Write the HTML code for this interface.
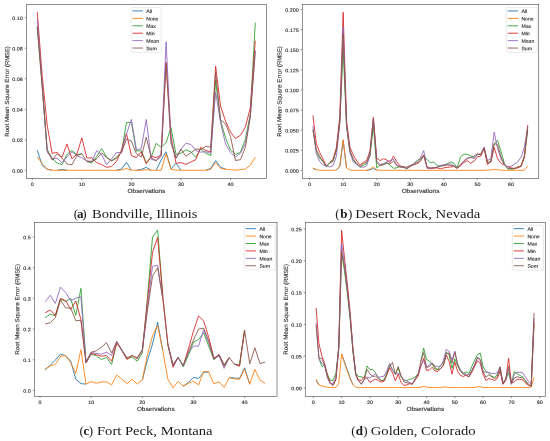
<!DOCTYPE html>
<html><head><meta charset="utf-8"><title>RMSE</title>
<style>
html,body{margin:0;padding:0;background:#fff;}
body{width:550px;height:441px;overflow:hidden;}
svg{display:block;}
text{font-family:"Liberation Sans",sans-serif;fill:#2a2a2a;stroke:#2a2a2a;stroke-width:0.12px;filter:grayscale(1);}
.cap{font-family:"Liberation Serif",serif;fill:#1a1a1a;stroke:none;}
.ln{fill:none;stroke-linejoin:round;stroke-linecap:butt;}
</style></head><body>
<svg width="550" height="441" viewBox="0 0 550 441">
<rect x="0" y="0" width="550" height="441" fill="#ffffff"/>

<g id="panel-a">
<clipPath id="clip-a"><rect x="26.5" y="4.6" width="239.9" height="173.9"/></clipPath>
<g clip-path="url(#clip-a)">
<polyline class="ln" stroke="#1f77b4" stroke-width="0.88" points="37.25,150.24 42.21,165.21 47.16,169.33 52.12,170.25"/>
<polyline class="ln" stroke="#1f77b4" stroke-width="0.88" points="57.07,170.25 62.03,169.48 66.98,170.25"/>
<polyline class="ln" stroke="#1f77b4" stroke-width="0.88" points="116.53,170.25 121.49,169.03 126.44,162.31 131.4,170.25"/>
<polyline class="ln" stroke="#1f77b4" stroke-width="0.88" points="136.36,170.25 141.31,169.48 146.26,167.35 151.22,170.25"/>
<polyline class="ln" stroke="#1f77b4" stroke-width="0.88" points="156.18,170.25 161.13,160.09 166.08,151.77 171.04,169.03 176,163.22 180.95,170.25"/>
<polyline class="ln" stroke="#1f77b4" stroke-width="0.88" points="205.73,170.25 210.68,168.41 215.63,160.47 220.59,167.35 225.55,169.03"/>
<polyline class="ln" stroke="#ff7f0e" stroke-width="0.88" points="37.25,156.66 42.21,163.83 47.16,169.03 52.12,170.25 57.07,170.25 62.03,170.25 66.98,170.25 71.94,170.25 76.89,170.25 81.85,170.25 86.81,170.25 91.76,170.25 96.72,170.25 101.67,170.25 106.62,170.25 111.58,170.25 116.53,170.25 121.49,169.94 126.44,168.41 131.4,170.25 136.36,170.25 141.31,170.25 146.26,169.64 151.22,170.25 156.18,170.25 161.13,170.25 166.08,153.76 171.04,169.33 176,170.09 180.95,170.25 185.9,170.25 190.86,170.25 195.81,170.25 200.77,170.25 205.73,170.25 210.68,169.33 215.63,162.61 220.59,168.41 225.55,169.18 230.5,169.64 235.45,170.25 240.41,169.64 245.37,169.03 250.32,165.21 255.27,157.12"/>
<polyline class="ln" stroke="#2ca02c" stroke-width="0.88" points="37.25,26.86 42.21,85.65 47.16,149.94 52.12,158.18 57.07,163.07 62.03,164.6 66.98,154.37 71.94,150.55 76.89,154.67 81.85,153.76"/>
<polyline class="ln" stroke="#2ca02c" stroke-width="0.88" points="86.81,161.39 91.76,163.07 96.72,156.28 101.67,148.64 106.62,156.96 111.58,160.78 116.53,156.96 121.49,152.46 126.44,122.6 131.4,122.3 136.36,151.16 141.31,150.55 146.26,162.61 151.22,156.96 156.18,143.3 161.13,147.34 166.08,142.61 171.04,127.64 176,154.37 180.95,153.3 185.9,149.94 190.86,151.77 195.81,157.27 200.77,148.64 205.73,153.3 210.68,155.59 215.63,80.46 220.59,120.62 225.55,137.87 230.5,149.94 235.45,154.37 240.41,152.46 245.37,139.1 250.32,113.9 255.27,22.59"/>
<polyline class="ln" stroke="#d62728" stroke-width="0.88" points="37.25,12.05 42.21,75.73 47.16,125.05 52.12,153.3 57.07,152.46 62.03,157.27 66.98,143.98 71.94,158.79 76.89,154.06 81.85,137.87 86.81,157.88 91.76,157.88 96.72,162.61 101.67,164.6 106.62,167.35 111.58,166.43 116.53,161.39 121.49,149.94 126.44,133.37 131.4,155.59 136.36,157.57 141.31,151.77 146.26,163.91 151.22,156.28 156.18,157.57 161.13,154.98 166.08,62.14 171.04,136.81 176,163.22 180.95,162.61 185.9,164.29 190.86,162 195.81,159.71 200.77,147.34 205.73,150.55 210.68,151.77 215.63,66.11 220.59,106.27 225.55,121.23 230.5,132.07 235.45,138.49 240.41,135.28 245.37,127.03 250.32,107.79 255.27,40.76"/>
<polyline class="ln" stroke="#9467bd" stroke-width="0.88" points="37.25,19.23 42.21,84.89 47.16,152.08 52.12,158.49 57.07,158.18 62.03,162.77 66.98,156.96 71.94,151.77 76.89,155.59 81.85,157.88 86.81,160.93 91.76,161.39 96.72,150.55 101.67,154.67 106.62,164.6 111.58,158.79 116.53,152.46 121.49,152.84 126.44,134.06 131.4,119.4 136.36,149.94 141.31,148.64 146.26,119.4 151.22,159.41 156.18,160.47 161.13,154.37 166.08,41.83 171.04,139.86 176,158.49 180.95,149.33 185.9,143.22 190.86,144.44 195.81,150.55 200.77,152.08 205.73,151.77 210.68,153.3 215.63,92.22 220.59,122.6 225.55,144.14 230.5,152.46 235.45,156.96 240.41,153.3 245.37,143.52 250.32,115.43 255.27,50.53"/>
<polyline class="ln" stroke="#8c564b" stroke-width="0.88" points="37.25,26.86 42.21,87.18 47.16,149.48 52.12,160.09 57.07,153.76 62.03,158.18 66.98,163.91 71.94,164.75 76.89,155.59 81.85,153.76 86.81,161.39 91.76,161.7 96.72,158.79 101.67,152.84 106.62,157.57 111.58,160.93 116.53,158.18 121.49,152.46 126.44,139.1 131.4,141.01 136.36,153.76 141.31,156.96 146.26,137.19 151.22,157.57 156.18,160.78 161.13,156.28 166.08,63.51 171.04,143.52 176,157.88 180.95,149.02 185.9,156.28 190.86,152.84 195.81,149.02 200.77,149.48 205.73,146.43 210.68,147.04 215.63,72.67 220.59,120.01 225.55,123.83 230.5,136.5 235.45,160.47 240.41,159.71 245.37,147.34 250.32,116.95 255.27,51.29"/>
</g>
<rect x="26.5" y="4.6" width="239.9" height="173.9" fill="none" stroke="#555555" stroke-width="0.65"/>
<line x1="32.3" y1="178.5" x2="32.3" y2="180.2" stroke="#555555" stroke-width="0.6"/>
<text x="32.3" y="186.05" transform="rotate(0.06 32.3 186.05)" font-size="4.9" text-anchor="middle" textLength="3" lengthAdjust="spacingAndGlyphs">0</text>
<line x1="81.85" y1="178.5" x2="81.85" y2="180.2" stroke="#555555" stroke-width="0.6"/>
<text x="81.85" y="186.05" transform="rotate(0.06 81.85 186.05)" font-size="4.9" text-anchor="middle" textLength="6.01" lengthAdjust="spacingAndGlyphs">10</text>
<line x1="131.4" y1="178.5" x2="131.4" y2="180.2" stroke="#555555" stroke-width="0.6"/>
<text x="131.4" y="186.05" transform="rotate(0.06 131.4 186.05)" font-size="4.9" text-anchor="middle" textLength="6.01" lengthAdjust="spacingAndGlyphs">20</text>
<line x1="180.95" y1="178.5" x2="180.95" y2="180.2" stroke="#555555" stroke-width="0.6"/>
<text x="180.95" y="186.05" transform="rotate(0.06 180.95 186.05)" font-size="4.9" text-anchor="middle" textLength="6.01" lengthAdjust="spacingAndGlyphs">30</text>
<line x1="230.5" y1="178.5" x2="230.5" y2="180.2" stroke="#555555" stroke-width="0.6"/>
<text x="230.5" y="186.05" transform="rotate(0.06 230.5 186.05)" font-size="4.9" text-anchor="middle" textLength="6.01" lengthAdjust="spacingAndGlyphs">40</text>
<line x1="24.8" y1="170.4" x2="26.5" y2="170.4" stroke="#555555" stroke-width="0.6"/>
<text x="22.9" y="172.65" transform="rotate(0.06 22.9 172.65)" font-size="4.9" text-anchor="end" textLength="10.51" lengthAdjust="spacingAndGlyphs">0.00</text>
<line x1="24.8" y1="139.86" x2="26.5" y2="139.86" stroke="#555555" stroke-width="0.6"/>
<text x="22.9" y="142.11" transform="rotate(0.06 22.9 142.11)" font-size="4.9" text-anchor="end" textLength="10.51" lengthAdjust="spacingAndGlyphs">0.02</text>
<line x1="24.8" y1="109.32" x2="26.5" y2="109.32" stroke="#555555" stroke-width="0.6"/>
<text x="22.9" y="111.57" transform="rotate(0.06 22.9 111.57)" font-size="4.9" text-anchor="end" textLength="10.51" lengthAdjust="spacingAndGlyphs">0.04</text>
<line x1="24.8" y1="78.78" x2="26.5" y2="78.78" stroke="#555555" stroke-width="0.6"/>
<text x="22.9" y="81.03" transform="rotate(0.06 22.9 81.03)" font-size="4.9" text-anchor="end" textLength="10.51" lengthAdjust="spacingAndGlyphs">0.06</text>
<line x1="24.8" y1="48.24" x2="26.5" y2="48.24" stroke="#555555" stroke-width="0.6"/>
<text x="22.9" y="50.49" transform="rotate(0.06 22.9 50.49)" font-size="4.9" text-anchor="end" textLength="10.51" lengthAdjust="spacingAndGlyphs">0.08</text>
<line x1="24.8" y1="17.7" x2="26.5" y2="17.7" stroke="#555555" stroke-width="0.6"/>
<text x="22.9" y="19.95" transform="rotate(0.06 22.9 19.95)" font-size="4.9" text-anchor="end" textLength="10.51" lengthAdjust="spacingAndGlyphs">0.10</text>
<text x="146.45" y="193.1" transform="rotate(0.06 146.45 193.1)" font-size="6.0" text-anchor="middle" textLength="37.7" lengthAdjust="spacingAndGlyphs">Observations</text>
<g transform="translate(9.1 91.55) rotate(-89.94)">
<text x="-45.26" y="0" font-size="6.0" textLength="12.96" lengthAdjust="spacingAndGlyphs">Root</text>
<text x="-30.48" y="0" font-size="6.0" textLength="15.58" lengthAdjust="spacingAndGlyphs">Mean</text>
<text x="-13.08" y="0" font-size="6.0" textLength="20.14" lengthAdjust="spacingAndGlyphs">Square</text>
<text x="8.88" y="0" font-size="6.0" textLength="13.94" lengthAdjust="spacingAndGlyphs">Error</text>
<text x="24.64" y="0" font-size="6.0" textLength="20.62" lengthAdjust="spacingAndGlyphs">(RMSE)</text>
</g>
<rect x="131.2" y="7.5" width="30" height="44.9" rx="0.8" fill="#ffffff" fill-opacity="0.8" stroke="#cccccc" stroke-opacity="0.8" stroke-width="0.5"/>
<line x1="132.5" y1="10.95" x2="142.8" y2="10.95" stroke="#1f77b4" stroke-width="0.88"/>
<text x="146.2" y="13.05" transform="rotate(0.06 146.2 13.05)" font-size="4.9" textLength="5.85" lengthAdjust="spacingAndGlyphs">All</text>
<line x1="132.5" y1="18.37" x2="142.8" y2="18.37" stroke="#ff7f0e" stroke-width="0.88"/>
<text x="146.2" y="20.47" transform="rotate(0.06 146.2 20.47)" font-size="4.9" textLength="12.31" lengthAdjust="spacingAndGlyphs">None</text>
<line x1="132.5" y1="25.79" x2="142.8" y2="25.79" stroke="#2ca02c" stroke-width="0.88"/>
<text x="146.2" y="27.89" transform="rotate(0.06 146.2 27.89)" font-size="4.9" textLength="9.76" lengthAdjust="spacingAndGlyphs">Max</text>
<line x1="132.5" y1="33.21" x2="142.8" y2="33.21" stroke="#d62728" stroke-width="0.88"/>
<text x="146.2" y="35.31" transform="rotate(0.06 146.2 35.31)" font-size="4.9" textLength="8.38" lengthAdjust="spacingAndGlyphs">Min</text>
<line x1="132.5" y1="40.63" x2="142.8" y2="40.63" stroke="#9467bd" stroke-width="0.88"/>
<text x="146.2" y="42.73" transform="rotate(0.06 146.2 42.73)" font-size="4.9" textLength="12.86" lengthAdjust="spacingAndGlyphs">Mean</text>
<line x1="132.5" y1="48.05" x2="142.8" y2="48.05" stroke="#8c564b" stroke-width="0.88"/>
<text x="146.2" y="50.15" transform="rotate(0.06 146.2 50.15)" font-size="4.9" textLength="10.59" lengthAdjust="spacingAndGlyphs">Sum</text>
<text class="cap" x="73.8" y="217.8" font-size="13">(</text>
<text class="cap" x="80.15" y="217.8" font-size="13" font-weight="bold" text-anchor="middle">a</text>
<text class="cap" x="86.5" y="217.8" font-size="13" text-anchor="end">)</text>
<text class="cap" x="92" y="217.8" font-size="13" textLength="105.3" lengthAdjust="spacingAndGlyphs">Bondville, Illinois</text>
</g>
<g id="panel-b">
<clipPath id="clip-b"><rect x="302.3" y="4.6" width="236.4" height="173.9"/></clipPath>
<g clip-path="url(#clip-b)">
<polyline class="ln" stroke="#1f77b4" stroke-width="0.88" points="312.96,168.49 316.31,169.76"/>
<polyline class="ln" stroke="#1f77b4" stroke-width="0.88" points="336.45,169.92 339.8,166.74 343.16,140.55 346.52,168.01"/>
<polyline class="ln" stroke="#1f77b4" stroke-width="0.88" points="366.65,170.32 370.01,169.76 373.36,168.57 376.72,170.16"/>
<polyline class="ln" stroke="#ff7f0e" stroke-width="0.88" points="312.96,168.01 316.31,169.76 319.67,170.16 323.02,170.32 326.38,170.32 329.74,170.32 333.09,170.32 336.45,169.92 339.8,166.02 343.16,139.67 346.52,168.01 349.87,169.92 353.23,170.32 356.58,170.32 359.94,170.32 363.3,170.32 366.65,170.32 370.01,169.13 373.36,166.98 376.72,169.92 380.08,170.32 383.43,170.32 386.79,170.32 390.14,170.32 393.5,170.32 396.86,170.32 400.21,170.32 403.57,170.32 406.92,170.32 410.28,170.32 413.64,170.32 416.99,170.32 420.35,170.32 423.7,170.32 427.06,170.32 430.42,170.32 433.77,170.32 437.13,170.32 440.48,170.32 443.84,170.32 447.2,170.32 450.55,170.32 453.91,170.32 457.26,170.32 460.62,170.32 463.98,170.32 467.33,170.32 470.69,170.32 474.04,170.32 477.4,170.32 480.76,170.32 484.11,170.32 487.47,170.08 490.82,169.92 494.18,169.29 497.54,169.76 500.89,170.08 504.25,170.32 507.6,170.32 510.96,170.32 514.32,170.32 517.67,170.32 521.03,170.32 524.38,170.16 527.74,166.02"/>
<polyline class="ln" stroke="#2ca02c" stroke-width="0.88" points="312.96,129.01 316.31,151.69 319.67,158.06 323.02,161.88 326.38,166.98 329.74,163.24 333.09,161.25 336.45,149.78 339.8,122.64 343.16,49.41 346.52,125.82 349.87,151.69 353.23,160.05 356.58,163.79 359.94,167.38 363.3,165.39 366.65,163.63 370.01,156.15 373.36,125.82 376.72,167.85 380.08,165.07 383.43,164.43 386.79,162.52 390.14,165.39 393.5,168.25 396.86,167.85 400.21,166.42 403.57,167.38 406.92,168.89 410.28,166.42 413.64,163.79 416.99,161.25 420.35,158.7 423.7,156.15 427.06,159.34 430.42,162.84 433.77,161.88 437.13,165.7 440.48,166.1 443.84,165.39 447.2,163.79 450.55,161.88 453.91,163.24 457.26,167.61 460.62,156.79 463.98,154.24 467.33,154.24 470.69,155.91 474.04,157.43 477.4,154.24 480.76,154.88 484.11,147.87 487.47,163.24 490.82,161.25 494.18,144.13 497.54,140.31 500.89,151.06 504.25,163.24 507.6,168.89 510.96,169.13 514.32,168.89 517.67,166.98 521.03,166.42 524.38,156.15 527.74,130.6"/>
<polyline class="ln" stroke="#d62728" stroke-width="0.88" points="312.96,115.48 316.31,143.5 319.67,152.33 323.02,159.02 326.38,166.1"/>
<polyline class="ln" stroke="#d62728" stroke-width="0.88" points="329.74,162.52 333.09,159.34 336.45,147.32 339.8,116.27 343.16,12.31 346.52,120.57 349.87,147 353.23,154.88 356.58,160.61 359.94,164.83 363.3,162.52 366.65,160.45 370.01,151.06 373.36,117.39 376.72,158.06 380.08,160.61 383.43,158.7 386.79,159.97 390.14,162.52 393.5,156.15 396.86,161.88 400.21,166.1 403.57,166.66 406.92,168.25 410.28,166.42 413.64,164.43 416.99,163.63 420.35,161.25 423.7,155.51 427.06,167.85 430.42,168.65 433.77,168.25 437.13,167.85 440.48,168.89 443.84,167.85 447.2,167.38 450.55,166.98 453.91,166.42 457.26,168.25 460.62,165.7 463.98,162.52 467.33,160.61 470.69,163.24 474.04,161.25 477.4,156.79 480.76,156.15 484.11,148.51 487.47,164.43 490.82,161.88 494.18,147.32 497.54,158.7 500.89,163.24 504.25,165.07"/>
<polyline class="ln" stroke="#d62728" stroke-width="0.88" points="507.6,166.66 510.96,167.85 514.32,168.65 517.67,167.85 521.03,166.42 524.38,157.43 527.74,125.03"/>
<polyline class="ln" stroke="#9467bd" stroke-width="0.88" points="312.96,125.66 316.31,153.68 319.67,161.25 323.02,165.07 326.38,165.7 329.74,166.98 333.09,165.39 336.45,156.15 339.8,122.64 343.16,27.12 346.52,124.23 349.87,152.33 353.23,161.88 356.58,164.43 359.94,166.42 363.3,167.38 366.65,165.86 370.01,154.88 373.36,119.3 376.72,161.25 380.08,164.43 383.43,163.55 386.79,161.88 390.14,160.61 393.5,159.34 396.86,165.07 400.21,166.98 403.57,166.42 406.92,168.65 410.28,165.7 413.64,163.79 416.99,160.61 420.35,158.06 423.7,150.5 427.06,168.25 430.42,168.25 433.77,167.85 437.13,166.98 440.48,165.39 443.84,164.83 447.2,164.43 450.55,163.79 453.91,165.7 457.26,167.85 460.62,165.07 463.98,161.25 467.33,158.7 470.69,157.43 474.04,158.7 477.4,154.88 480.76,154.24 484.11,147 487.47,160.61 490.82,158.7 494.18,132.27 497.54,148.51 500.89,158.7 504.25,164.83 507.6,166.42 510.96,166.42 514.32,164.43 517.67,161.88 521.03,157.43 524.38,147.32 527.74,126.94"/>
<polyline class="ln" stroke="#8c564b" stroke-width="0.88" points="312.96,130.6 316.31,149.78 319.67,156.15 323.02,161.25 326.38,166.1 329.74,162.52 333.09,160.61 336.45,149.78 339.8,121.05 343.16,33.73 346.52,124.23 349.87,150.5 353.23,158.7 356.58,163.24 359.94,166.42 363.3,163.79 366.65,162.2 370.01,152.97 373.36,118.66 376.72,162.52 380.08,165.7 383.43,164.83 386.79,163.24 390.14,163.79 393.5,161.25 396.86,165.7 400.21,166.98 403.57,167.61 406.92,166.98 410.28,165.39 413.64,165.07 416.99,162.84 420.35,160.61 423.7,154.88 427.06,166.98 430.42,167.85 433.77,167.61 437.13,167.38 440.48,166.42 443.84,165.39 447.2,165.07 450.55,165.39 453.91,166.1 457.26,168.25 460.62,164.43 463.98,160.61 467.33,158.06 470.69,157.43 474.04,156.15 477.4,153.68 480.76,154.24 484.11,147.87 487.47,162.52 490.82,161.88 494.18,143.5 497.54,144.77 500.89,156.15 504.25,164.43 507.6,168.25 510.96,168.65 514.32,168.25 517.67,166.98 521.03,165.7 524.38,156.15 527.74,127.42"/>
</g>
<rect x="302.3" y="4.6" width="236.4" height="173.9" fill="none" stroke="#555555" stroke-width="0.65"/>
<line x1="309.6" y1="178.5" x2="309.6" y2="180.2" stroke="#555555" stroke-width="0.6"/>
<text x="309.6" y="186.05" transform="rotate(0.06 309.6 186.05)" font-size="4.9" text-anchor="middle" textLength="3" lengthAdjust="spacingAndGlyphs">0</text>
<line x1="343.16" y1="178.5" x2="343.16" y2="180.2" stroke="#555555" stroke-width="0.6"/>
<text x="343.16" y="186.05" transform="rotate(0.06 343.16 186.05)" font-size="4.9" text-anchor="middle" textLength="6.01" lengthAdjust="spacingAndGlyphs">10</text>
<line x1="376.72" y1="178.5" x2="376.72" y2="180.2" stroke="#555555" stroke-width="0.6"/>
<text x="376.72" y="186.05" transform="rotate(0.06 376.72 186.05)" font-size="4.9" text-anchor="middle" textLength="6.01" lengthAdjust="spacingAndGlyphs">20</text>
<line x1="410.28" y1="178.5" x2="410.28" y2="180.2" stroke="#555555" stroke-width="0.6"/>
<text x="410.28" y="186.05" transform="rotate(0.06 410.28 186.05)" font-size="4.9" text-anchor="middle" textLength="6.01" lengthAdjust="spacingAndGlyphs">30</text>
<line x1="443.84" y1="178.5" x2="443.84" y2="180.2" stroke="#555555" stroke-width="0.6"/>
<text x="443.84" y="186.05" transform="rotate(0.06 443.84 186.05)" font-size="4.9" text-anchor="middle" textLength="6.01" lengthAdjust="spacingAndGlyphs">40</text>
<line x1="477.4" y1="178.5" x2="477.4" y2="180.2" stroke="#555555" stroke-width="0.6"/>
<text x="477.4" y="186.05" transform="rotate(0.06 477.4 186.05)" font-size="4.9" text-anchor="middle" textLength="6.01" lengthAdjust="spacingAndGlyphs">50</text>
<line x1="510.96" y1="178.5" x2="510.96" y2="180.2" stroke="#555555" stroke-width="0.6"/>
<text x="510.96" y="186.05" transform="rotate(0.06 510.96 186.05)" font-size="4.9" text-anchor="middle" textLength="6.01" lengthAdjust="spacingAndGlyphs">60</text>
<line x1="300.6" y1="170.4" x2="302.3" y2="170.4" stroke="#555555" stroke-width="0.6"/>
<text x="298.7" y="172.65" transform="rotate(0.06 298.7 172.65)" font-size="4.9" text-anchor="end" textLength="13.51" lengthAdjust="spacingAndGlyphs">0.000</text>
<line x1="300.6" y1="150.3" x2="302.3" y2="150.3" stroke="#555555" stroke-width="0.6"/>
<text x="298.7" y="152.55" transform="rotate(0.06 298.7 152.55)" font-size="4.9" text-anchor="end" textLength="13.51" lengthAdjust="spacingAndGlyphs">0.025</text>
<line x1="300.6" y1="130.2" x2="302.3" y2="130.2" stroke="#555555" stroke-width="0.6"/>
<text x="298.7" y="132.45" transform="rotate(0.06 298.7 132.45)" font-size="4.9" text-anchor="end" textLength="13.51" lengthAdjust="spacingAndGlyphs">0.050</text>
<line x1="300.6" y1="110.1" x2="302.3" y2="110.1" stroke="#555555" stroke-width="0.6"/>
<text x="298.7" y="112.35" transform="rotate(0.06 298.7 112.35)" font-size="4.9" text-anchor="end" textLength="13.51" lengthAdjust="spacingAndGlyphs">0.075</text>
<line x1="300.6" y1="90" x2="302.3" y2="90" stroke="#555555" stroke-width="0.6"/>
<text x="298.7" y="92.25" transform="rotate(0.06 298.7 92.25)" font-size="4.9" text-anchor="end" textLength="13.51" lengthAdjust="spacingAndGlyphs">0.100</text>
<line x1="300.6" y1="69.9" x2="302.3" y2="69.9" stroke="#555555" stroke-width="0.6"/>
<text x="298.7" y="72.15" transform="rotate(0.06 298.7 72.15)" font-size="4.9" text-anchor="end" textLength="13.51" lengthAdjust="spacingAndGlyphs">0.125</text>
<line x1="300.6" y1="49.8" x2="302.3" y2="49.8" stroke="#555555" stroke-width="0.6"/>
<text x="298.7" y="52.05" transform="rotate(0.06 298.7 52.05)" font-size="4.9" text-anchor="end" textLength="13.51" lengthAdjust="spacingAndGlyphs">0.150</text>
<line x1="300.6" y1="29.7" x2="302.3" y2="29.7" stroke="#555555" stroke-width="0.6"/>
<text x="298.7" y="31.95" transform="rotate(0.06 298.7 31.95)" font-size="4.9" text-anchor="end" textLength="13.51" lengthAdjust="spacingAndGlyphs">0.175</text>
<line x1="300.6" y1="9.6" x2="302.3" y2="9.6" stroke="#555555" stroke-width="0.6"/>
<text x="298.7" y="11.85" transform="rotate(0.06 298.7 11.85)" font-size="4.9" text-anchor="end" textLength="13.51" lengthAdjust="spacingAndGlyphs">0.200</text>
<text x="420.5" y="193.1" transform="rotate(0.06 420.5 193.1)" font-size="6.0" text-anchor="middle" textLength="37.7" lengthAdjust="spacingAndGlyphs">Observations</text>
<g transform="translate(281.4 91.55) rotate(-89.94)">
<text x="-45.26" y="0" font-size="6.0" textLength="12.96" lengthAdjust="spacingAndGlyphs">Root</text>
<text x="-30.48" y="0" font-size="6.0" textLength="15.58" lengthAdjust="spacingAndGlyphs">Mean</text>
<text x="-13.08" y="0" font-size="6.0" textLength="20.14" lengthAdjust="spacingAndGlyphs">Square</text>
<text x="8.88" y="0" font-size="6.0" textLength="13.94" lengthAdjust="spacingAndGlyphs">Error</text>
<text x="24.64" y="0" font-size="6.0" textLength="20.62" lengthAdjust="spacingAndGlyphs">(RMSE)</text>
</g>
<rect x="506.4" y="7.5" width="30.7" height="44.9" rx="0.8" fill="#ffffff" fill-opacity="0.8" stroke="#cccccc" stroke-opacity="0.8" stroke-width="0.5"/>
<line x1="507.7" y1="10.95" x2="518" y2="10.95" stroke="#1f77b4" stroke-width="0.88"/>
<text x="521.4" y="13.05" transform="rotate(0.06 521.4 13.05)" font-size="4.9" textLength="5.85" lengthAdjust="spacingAndGlyphs">All</text>
<line x1="507.7" y1="18.37" x2="518" y2="18.37" stroke="#ff7f0e" stroke-width="0.88"/>
<text x="521.4" y="20.47" transform="rotate(0.06 521.4 20.47)" font-size="4.9" textLength="12.31" lengthAdjust="spacingAndGlyphs">None</text>
<line x1="507.7" y1="25.79" x2="518" y2="25.79" stroke="#2ca02c" stroke-width="0.88"/>
<text x="521.4" y="27.89" transform="rotate(0.06 521.4 27.89)" font-size="4.9" textLength="9.76" lengthAdjust="spacingAndGlyphs">Max</text>
<line x1="507.7" y1="33.21" x2="518" y2="33.21" stroke="#d62728" stroke-width="0.88"/>
<text x="521.4" y="35.31" transform="rotate(0.06 521.4 35.31)" font-size="4.9" textLength="8.38" lengthAdjust="spacingAndGlyphs">Min</text>
<line x1="507.7" y1="40.63" x2="518" y2="40.63" stroke="#9467bd" stroke-width="0.88"/>
<text x="521.4" y="42.73" transform="rotate(0.06 521.4 42.73)" font-size="4.9" textLength="12.86" lengthAdjust="spacingAndGlyphs">Mean</text>
<line x1="507.7" y1="48.05" x2="518" y2="48.05" stroke="#8c564b" stroke-width="0.88"/>
<text x="521.4" y="50.15" transform="rotate(0.06 521.4 50.15)" font-size="4.9" textLength="10.59" lengthAdjust="spacingAndGlyphs">Sum</text>
<text class="cap" x="335.3" y="217.8" font-size="13">(</text>
<text class="cap" x="343.8" y="217.8" font-size="13" font-weight="bold" text-anchor="middle">b</text>
<text class="cap" x="352.3" y="217.8" font-size="13" text-anchor="end">)</text>
<text class="cap" x="355.2" y="217.8" font-size="13" textLength="125.2" lengthAdjust="spacingAndGlyphs">Desert Rock, Nevada</text>
</g>
<g id="panel-c">
<clipPath id="clip-c"><rect x="34.5" y="222.4" width="242.5" height="174"/></clipPath>
<g clip-path="url(#clip-c)">
<polyline class="ln" stroke="#1f77b4" stroke-width="0.88" points="45.12,369.86 50.23,365.26 55.34,360.05 60.46,354.12 65.58,355.78 70.69,361.18 75.81,379.19 80.92,383.61 86.03,384.1"/>
<polyline class="ln" stroke="#1f77b4" stroke-width="0.88" points="142.3,379.99 147.42,360.35 152.53,344 157.65,322.22 162.76,350.54"/>
<polyline class="ln" stroke="#1f77b4" stroke-width="0.88" points="183.22,386.22 188.34,382.44 193.45,377.32 198.56,378.45 203.68,372.41 208.8,371.92"/>
<polyline class="ln" stroke="#1f77b4" stroke-width="0.88" points="229.25,377.63 234.37,377.96 239.49,378.45 244.6,367.81 249.72,384.19"/>
<polyline class="ln" stroke="#ff7f0e" stroke-width="0.88" points="45.12,368.88 50.23,366.09 55.34,364.46 60.46,356.27 65.58,355.44 70.69,362.81 75.81,373.45 80.92,349.74 86.03,384.1 91.15,381.64 96.27,383.27 101.38,381.95 106.5,381.95 111.61,384.9 116.73,375.08 121.84,379.19 126.95,383.61 132.07,379.19 137.19,384.1 142.3,379.99 147.42,354.65 152.53,335.81 157.65,325.5 162.76,350.54 167.88,379.19 172.99,387.84 178.11,381.31 183.22,386.22 188.34,383.27 193.45,381.25 198.56,384.99 203.68,371.43 208.8,371.92 213.91,383.85 219.03,381.74 224.14,387.44 229.25,377.63 234.37,378.94 239.49,379.28 244.6,369.13 249.72,384.19 254.83,369.46 259.95,380.08 265.06,383.36"/>
<polyline class="ln" stroke="#2ca02c" stroke-width="0.88" points="45.12,317.8 50.23,314.21 55.34,315.84 60.46,299.02 65.58,301.48 70.69,298.5 75.81,315.35 80.92,288.35 86.03,362.84 91.15,354.16 96.27,355.78 101.38,359.56 106.5,357.41 111.61,364.46 116.73,342.9"/>
<polyline class="ln" stroke="#2ca02c" stroke-width="0.88" points="121.84,350.54 126.95,358.7 132.07,357.07 137.19,361.18 142.3,352.99 147.42,298.41 152.53,237.05 157.65,230.18 162.76,295.34"/>
<polyline class="ln" stroke="#2ca02c" stroke-width="0.88" points="167.88,344.43 172.99,366.09 178.11,357.41 183.22,366.92 188.34,355.44 193.45,342.22 198.56,339.58 203.68,332.71 208.8,346.64 213.91,359.71 219.03,355.29 224.14,364.62 229.25,357.59"/>
<polyline class="ln" stroke="#2ca02c" stroke-width="0.88" points="234.37,364.13 239.49,365.45 244.6,330.26"/>
<polyline class="ln" stroke="#d62728" stroke-width="0.88" points="45.12,312.89 50.23,309.95 55.34,315.35 60.46,298.5 65.58,300.62 70.69,309.3 75.81,301.11 80.92,319.46 86.03,362.84 91.15,353.48 96.27,354.65 101.38,356.27 106.5,355.44 111.61,361.18 116.73,343.17 121.84,350.54 126.95,359.52 132.07,355.44 137.19,358.73 142.3,350.54 147.42,301.48 152.53,252.27 157.65,237.54 162.76,295.34 167.88,344.43 172.99,367.23 178.11,357.41"/>
<polyline class="ln" stroke="#d62728" stroke-width="0.88" points="183.22,366.09 188.34,349.03 193.45,331.08 198.56,316.02 203.68,320.93 208.8,337.62 213.91,358.08 219.03,354.8 224.14,365.45 229.25,357.59"/>
<polyline class="ln" stroke="#d62728" stroke-width="0.88" points="234.37,364.13 239.49,366.27 244.6,330.26"/>
<polyline class="ln" stroke="#9467bd" stroke-width="0.88" points="45.12,301.78 50.23,295.22 55.34,303.41 60.46,287.06 65.58,292.46 70.69,300.62 75.81,298.2 80.92,296.88 86.03,362.84 91.15,352.5 96.27,353.48 101.38,354.16 106.5,352.19 111.61,355.44 116.73,341.55 121.84,350.54 126.95,357.9"/>
<polyline class="ln" stroke="#9467bd" stroke-width="0.88" points="137.19,357.9 142.3,350.54 147.42,307.61 152.53,266.17 157.65,265.37 162.76,298.41"/>
<polyline class="ln" stroke="#9467bd" stroke-width="0.88" points="167.88,344.43 172.99,365.26 178.11,357.41 183.22,366.09 188.34,352.99 193.45,346.15 198.56,346.15 203.68,329.76 208.8,343.36 213.91,359.22 219.03,355.63 224.14,368.39 229.25,357.59"/>
<polyline class="ln" stroke="#8c564b" stroke-width="0.88" points="45.12,324.03 50.23,322.71 55.34,317.8 60.46,299.82 65.58,307.98 70.69,307.98 75.81,320.75 80.92,320.25 86.03,361.98 91.15,352.19 96.27,350.87 101.38,347.28 106.5,342.68 111.61,352.99 116.73,341.55 121.84,349.74 126.95,357.9 132.07,355.44 137.19,357.9 142.3,349.74 147.42,310.68 152.53,275.98 157.65,267.82 162.76,298.41 167.88,344.43 172.99,364.46 178.11,357.41 183.22,365.26 188.34,352.16 193.45,340.07 198.56,329.09 203.68,328.14 208.8,340.9 213.91,358.91 219.03,354.31 224.14,366.27 229.25,357.59 234.37,364.13 239.49,365.11 244.6,330.26 249.72,363.82 254.83,347.77 259.95,363.48 265.06,362.16"/>
</g>
<rect x="34.5" y="222.4" width="242.5" height="174" fill="none" stroke="#555555" stroke-width="0.65"/>
<line x1="40" y1="396.4" x2="40" y2="398.1" stroke="#555555" stroke-width="0.6"/>
<text x="40" y="403.95" transform="rotate(0.06 40 403.95)" font-size="4.9" text-anchor="middle" textLength="3" lengthAdjust="spacingAndGlyphs">0</text>
<line x1="91.15" y1="396.4" x2="91.15" y2="398.1" stroke="#555555" stroke-width="0.6"/>
<text x="91.15" y="403.95" transform="rotate(0.06 91.15 403.95)" font-size="4.9" text-anchor="middle" textLength="6.01" lengthAdjust="spacingAndGlyphs">10</text>
<line x1="142.3" y1="396.4" x2="142.3" y2="398.1" stroke="#555555" stroke-width="0.6"/>
<text x="142.3" y="403.95" transform="rotate(0.06 142.3 403.95)" font-size="4.9" text-anchor="middle" textLength="6.01" lengthAdjust="spacingAndGlyphs">20</text>
<line x1="193.45" y1="396.4" x2="193.45" y2="398.1" stroke="#555555" stroke-width="0.6"/>
<text x="193.45" y="403.95" transform="rotate(0.06 193.45 403.95)" font-size="4.9" text-anchor="middle" textLength="6.01" lengthAdjust="spacingAndGlyphs">30</text>
<line x1="244.6" y1="396.4" x2="244.6" y2="398.1" stroke="#555555" stroke-width="0.6"/>
<text x="244.6" y="403.95" transform="rotate(0.06 244.6 403.95)" font-size="4.9" text-anchor="middle" textLength="6.01" lengthAdjust="spacingAndGlyphs">40</text>
<line x1="32.8" y1="390.45" x2="34.5" y2="390.45" stroke="#555555" stroke-width="0.6"/>
<text x="30.9" y="392.7" transform="rotate(0.06 30.9 392.7)" font-size="4.9" text-anchor="end" textLength="7.51" lengthAdjust="spacingAndGlyphs">0.0</text>
<line x1="32.8" y1="359.77" x2="34.5" y2="359.77" stroke="#555555" stroke-width="0.6"/>
<text x="30.9" y="362.02" transform="rotate(0.06 30.9 362.02)" font-size="4.9" text-anchor="end" textLength="7.51" lengthAdjust="spacingAndGlyphs">0.1</text>
<line x1="32.8" y1="329.09" x2="34.5" y2="329.09" stroke="#555555" stroke-width="0.6"/>
<text x="30.9" y="331.34" transform="rotate(0.06 30.9 331.34)" font-size="4.9" text-anchor="end" textLength="7.51" lengthAdjust="spacingAndGlyphs">0.2</text>
<line x1="32.8" y1="298.41" x2="34.5" y2="298.41" stroke="#555555" stroke-width="0.6"/>
<text x="30.9" y="300.66" transform="rotate(0.06 30.9 300.66)" font-size="4.9" text-anchor="end" textLength="7.51" lengthAdjust="spacingAndGlyphs">0.3</text>
<line x1="32.8" y1="267.73" x2="34.5" y2="267.73" stroke="#555555" stroke-width="0.6"/>
<text x="30.9" y="269.98" transform="rotate(0.06 30.9 269.98)" font-size="4.9" text-anchor="end" textLength="7.51" lengthAdjust="spacingAndGlyphs">0.4</text>
<line x1="32.8" y1="237.05" x2="34.5" y2="237.05" stroke="#555555" stroke-width="0.6"/>
<text x="30.9" y="239.3" transform="rotate(0.06 30.9 239.3)" font-size="4.9" text-anchor="end" textLength="7.51" lengthAdjust="spacingAndGlyphs">0.5</text>
<text x="155.75" y="411" transform="rotate(0.06 155.75 411)" font-size="6.0" text-anchor="middle" textLength="37.7" lengthAdjust="spacingAndGlyphs">Observations</text>
<g transform="translate(19.35 309.4) rotate(-89.94)">
<text x="-45.26" y="0" font-size="6.0" textLength="12.96" lengthAdjust="spacingAndGlyphs">Root</text>
<text x="-30.48" y="0" font-size="6.0" textLength="15.58" lengthAdjust="spacingAndGlyphs">Mean</text>
<text x="-13.08" y="0" font-size="6.0" textLength="20.14" lengthAdjust="spacingAndGlyphs">Square</text>
<text x="8.88" y="0" font-size="6.0" textLength="13.94" lengthAdjust="spacingAndGlyphs">Error</text>
<text x="24.64" y="0" font-size="6.0" textLength="20.62" lengthAdjust="spacingAndGlyphs">(RMSE)</text>
</g>
<rect x="244.4" y="225.2" width="30.8" height="44.9" rx="0.8" fill="#ffffff" fill-opacity="0.8" stroke="#cccccc" stroke-opacity="0.8" stroke-width="0.5"/>
<line x1="245.7" y1="228.65" x2="256" y2="228.65" stroke="#1f77b4" stroke-width="0.88"/>
<text x="259.4" y="230.75" transform="rotate(0.06 259.4 230.75)" font-size="4.9" textLength="5.85" lengthAdjust="spacingAndGlyphs">All</text>
<line x1="245.7" y1="236.07" x2="256" y2="236.07" stroke="#ff7f0e" stroke-width="0.88"/>
<text x="259.4" y="238.17" transform="rotate(0.06 259.4 238.17)" font-size="4.9" textLength="12.31" lengthAdjust="spacingAndGlyphs">None</text>
<line x1="245.7" y1="243.49" x2="256" y2="243.49" stroke="#2ca02c" stroke-width="0.88"/>
<text x="259.4" y="245.59" transform="rotate(0.06 259.4 245.59)" font-size="4.9" textLength="9.76" lengthAdjust="spacingAndGlyphs">Max</text>
<line x1="245.7" y1="250.91" x2="256" y2="250.91" stroke="#d62728" stroke-width="0.88"/>
<text x="259.4" y="253.01" transform="rotate(0.06 259.4 253.01)" font-size="4.9" textLength="8.38" lengthAdjust="spacingAndGlyphs">Min</text>
<line x1="245.7" y1="258.33" x2="256" y2="258.33" stroke="#9467bd" stroke-width="0.88"/>
<text x="259.4" y="260.43" transform="rotate(0.06 259.4 260.43)" font-size="4.9" textLength="12.86" lengthAdjust="spacingAndGlyphs">Mean</text>
<line x1="245.7" y1="265.75" x2="256" y2="265.75" stroke="#8c564b" stroke-width="0.88"/>
<text x="259.4" y="267.85" transform="rotate(0.06 259.4 267.85)" font-size="4.9" textLength="10.59" lengthAdjust="spacingAndGlyphs">Sum</text>
<text class="cap" x="79.4" y="435.3" font-size="13">(</text>
<text class="cap" x="86.3" y="435.3" font-size="13" font-weight="bold" text-anchor="middle">c</text>
<text class="cap" x="93.2" y="435.3" font-size="13" text-anchor="end">)</text>
<text class="cap" x="97" y="435.3" font-size="13" textLength="115.5" lengthAdjust="spacingAndGlyphs">Fort Peck, Montana</text>
</g>
<g id="panel-d">
<clipPath id="clip-d"><rect x="305.3" y="222.4" width="240" height="174"/></clipPath>
<g clip-path="url(#clip-d)">
<polyline class="ln" stroke="#1f77b4" stroke-width="0.88" points="316.13,380.56 318.96,385.01"/>
<polyline class="ln" stroke="#1f77b4" stroke-width="0.88" points="341.6,353.85 344.43,361.61 347.26,369.87 350.09,377.82 352.92,384.63"/>
<polyline class="ln" stroke="#ff7f0e" stroke-width="0.88" points="316.13,379.29 318.96,385.01 321.79,385.9 324.62,386.66 327.45,387.17 330.28,387.49 333.11,387.68 335.94,387.49 338.77,383.74 341.6,353.85 344.43,362.75 347.26,371.02 350.09,378.65 352.92,384.63 355.75,387.17 358.58,387.55 361.41,387.55 364.24,387.55 367.07,387.55 369.9,387.55 372.73,387.55 375.56,387.55 378.39,387.55 381.22,387.55 384.05,387.55 386.88,387.55 389.71,387.55 392.54,387.55 395.37,387.55 398.2,387.55 401.03,387.55 403.86,387.55 406.69,387.55 409.52,387.55 412.35,387.55 415.18,387.55 418.01,387.55 420.84,387.24 423.67,386.47 426.5,387.11 429.33,387.55 432.16,387.55 434.99,387.55 437.82,387.55 440.65,387.55 443.48,387.05 446.31,386.92 449.14,387.55 451.97,387.55 454.8,387.55 457.63,387.55 460.46,387.55 463.29,387.55 466.12,387.55 468.95,387.55 471.78,387.55 474.61,387.55 477.44,386.79 480.27,386.66 483.1,387.55 485.93,387.55 488.76,387.55 491.59,387.55 494.42,387.55 497.25,387.55 500.08,387.55 502.91,387.55 505.74,387.55 508.57,387.55 511.4,387.55 514.23,387.55 517.06,387.55 519.89,387.55 522.72,387.55 525.55,387.55 528.38,387.55 531.21,386.92 534.04,377.38"/>
<polyline class="ln" stroke="#2ca02c" stroke-width="0.88" points="318.96,358.3 321.79,366.57 324.62,365.29 327.45,374.2 330.28,380.56 333.11,380.3 335.94,372.93 338.77,348.57 341.6,253.74 344.43,270.34 347.26,292.6 350.09,318.04 352.92,351.11 355.75,372.93 358.58,376.49 361.41,376.74 364.24,378.01 367.07,365.93 369.9,369.75 372.73,369.37 375.56,372.93 378.39,378.01 381.22,380.56 384.05,379.92 386.88,372.93 389.71,364.66 392.54,369.75 395.37,374.2 398.2,367.84 401.03,376.74 403.86,379.92 406.69,380.56 409.52,379.29 412.35,378.65 415.18,376.74 418.01,374.2"/>
<polyline class="ln" stroke="#2ca02c" stroke-width="0.88" points="420.84,361.48 423.67,348.06 426.5,359.57 429.33,360.84 432.16,364.02 434.99,369.11 437.82,369.37 440.65,365.29 443.48,362.75 446.31,352.51 449.14,355.06 451.97,368.47 454.8,358.93 457.63,365.93 460.46,371.02 463.29,373.56 466.12,371.65 468.95,373.56 471.78,366.57 474.61,360.21 477.44,354.48 480.27,353.15 483.1,366.57 485.93,371.4 488.76,372.93 491.59,376.11 494.42,377.38 497.25,374.83 500.08,368.47 502.91,383.1 505.74,379.92 508.57,372.93 511.4,383.74 514.23,371.65 517.06,373.56 519.89,375.47 522.72,376.74 525.55,381.19 528.38,385.01"/>
<polyline class="ln" stroke="#2ca02c" stroke-width="0.88" points="531.21,386.28 534.04,324.4"/>
<polyline class="ln" stroke="#d62728" stroke-width="0.88" points="316.13,308.05 318.96,343.61 321.79,355.75 324.62,363.39 327.45,375.47 330.28,383.1 333.11,385.39 335.94,379.29 338.77,346.02 341.6,230.21 344.43,257.62 347.26,283.06 350.09,311.68 352.92,347.93 355.75,374.2 358.58,379.92 361.41,380.56 364.24,376.49 367.07,378.01 369.9,382.47 372.73,380.56 375.56,379.03 378.39,380.56 381.22,382.09 384.05,381.19 386.88,374.83 389.71,367.84 392.54,372.93 395.37,380.81 398.2,374.2 401.03,382.47 403.86,385.39 406.69,385.01 409.52,383.74 412.35,384.12 415.18,379.92 418.01,376.11 420.84,366.57 423.67,358.3 426.5,370.38 429.33,370.13 432.16,367.2 434.99,371.02 437.82,371.4 440.65,368.47 443.48,364.66 446.31,355.06 449.14,361.48 451.97,374.2 454.8,362.11 457.63,371.65 460.46,375.47 463.29,376.49 466.12,374.83 468.95,376.74 471.78,372.29 474.61,366.57 477.44,360.84 480.27,363.39 483.1,374.2 485.93,380.56 488.76,378.65 491.59,379.29 494.42,380.56 497.25,378.65 500.08,371.02 502.91,384.37 505.74,380.56 508.57,358.3 511.4,383.1 514.23,381.83 517.06,379.29 519.89,379.29 522.72,379.92 525.55,383.1 528.38,385.01 531.21,386.28 534.04,321.86"/>
<polyline class="ln" stroke="#9467bd" stroke-width="0.88" points="316.13,322.94 318.96,358.3 321.79,363.39 324.62,365.29 327.45,378.01 330.28,383.74 333.11,383.1 335.94,378.01 338.77,347.3 341.6,243.25 344.43,263.98 347.26,287.51 350.09,314.86 352.92,349.84 355.75,375.47 358.58,381.19 361.41,383.74 364.24,379.92 367.07,377 369.9,378.01 372.73,375.47 375.56,373.56 378.39,377.38 381.22,376.74 384.05,376.11 386.88,370.38 389.71,363.39 392.54,370.38 395.37,374.2 398.2,372.93 401.03,376.11 403.86,379.92 406.69,381.19 409.52,382.47 412.35,383.74 415.18,378.65 418.01,374.83 420.84,364.66 423.67,360.84 426.5,367.84 429.33,364.66 432.16,362.75 434.99,365.93 437.82,366.57 440.65,365.93 443.48,360.21 446.31,349.33 449.14,351.24 451.97,360.21 454.8,351.24 457.63,364.02 460.46,369.75 463.29,372.93 466.12,374.2 468.95,374.83 471.78,370.38 474.61,364.66 477.44,357.03 480.27,360.84 483.1,371.65 485.93,372.29 488.76,372.29 491.59,373.56 494.42,373.56 497.25,372.93 500.08,366.57 502.91,382.47 505.74,379.29 508.57,369.11 511.4,384.37 514.23,374.2 517.06,372.29 519.89,372.29 522.72,372.93 525.55,377.38 528.38,381.19 531.21,384.18 534.04,318.04"/>
<polyline class="ln" stroke="#8c564b" stroke-width="0.88" points="316.13,325.67 318.96,358.3 321.79,358.3 324.62,365.29 327.45,376.74 330.28,383.36 333.11,385.01 335.94,378.65 338.77,347.93 341.6,251.13 344.43,267.16 347.26,289.42 350.09,316.13 352.92,349.84 355.75,374.83 358.58,380.56 361.41,384.37 364.24,379.29 367.07,369.37 369.9,373.94 372.73,376.49 375.56,376.11 378.39,378.65 381.22,380.56 384.05,380.81 386.88,374.2 389.71,366.57 392.54,362.5 395.37,374.2 398.2,366.57 401.03,375.47 403.86,381.83 406.69,382.85 409.52,383.36 412.35,384.12 415.18,379.29 418.01,374.2 420.84,361.48 423.67,352.57 426.5,367.2 429.33,366.57 432.16,363.39 434.99,367.2 437.82,369.75 440.65,368.47 443.48,365.93 446.31,353.15 449.14,353.15 451.97,363.39 454.8,351.88 457.63,364.66 460.46,371.02 463.29,374.2 466.12,375.47 468.95,377 471.78,371.02 474.61,365.29 477.44,357.66 480.27,359.57 483.1,371.65 485.93,377.38 488.76,374.83 491.59,376.74 494.42,378.65 497.25,376.74 500.08,367.2 502.91,383.74 505.74,378.65 508.57,366.57 511.4,383.36 514.23,378.01 517.06,376.74 519.89,377.38 522.72,378.01 525.55,380.56 528.38,384.12 531.21,386.28 534.04,312.95"/>
</g>
<rect x="305.3" y="222.4" width="240" height="174" fill="none" stroke="#555555" stroke-width="0.65"/>
<line x1="313.3" y1="396.4" x2="313.3" y2="398.1" stroke="#555555" stroke-width="0.6"/>
<text x="313.3" y="403.95" transform="rotate(0.06 313.3 403.95)" font-size="4.9" text-anchor="middle" textLength="3" lengthAdjust="spacingAndGlyphs">0</text>
<line x1="341.6" y1="396.4" x2="341.6" y2="398.1" stroke="#555555" stroke-width="0.6"/>
<text x="341.6" y="403.95" transform="rotate(0.06 341.6 403.95)" font-size="4.9" text-anchor="middle" textLength="6.01" lengthAdjust="spacingAndGlyphs">10</text>
<line x1="369.9" y1="396.4" x2="369.9" y2="398.1" stroke="#555555" stroke-width="0.6"/>
<text x="369.9" y="403.95" transform="rotate(0.06 369.9 403.95)" font-size="4.9" text-anchor="middle" textLength="6.01" lengthAdjust="spacingAndGlyphs">20</text>
<line x1="398.2" y1="396.4" x2="398.2" y2="398.1" stroke="#555555" stroke-width="0.6"/>
<text x="398.2" y="403.95" transform="rotate(0.06 398.2 403.95)" font-size="4.9" text-anchor="middle" textLength="6.01" lengthAdjust="spacingAndGlyphs">30</text>
<line x1="426.5" y1="396.4" x2="426.5" y2="398.1" stroke="#555555" stroke-width="0.6"/>
<text x="426.5" y="403.95" transform="rotate(0.06 426.5 403.95)" font-size="4.9" text-anchor="middle" textLength="6.01" lengthAdjust="spacingAndGlyphs">40</text>
<line x1="454.8" y1="396.4" x2="454.8" y2="398.1" stroke="#555555" stroke-width="0.6"/>
<text x="454.8" y="403.95" transform="rotate(0.06 454.8 403.95)" font-size="4.9" text-anchor="middle" textLength="6.01" lengthAdjust="spacingAndGlyphs">50</text>
<line x1="483.1" y1="396.4" x2="483.1" y2="398.1" stroke="#555555" stroke-width="0.6"/>
<text x="483.1" y="403.95" transform="rotate(0.06 483.1 403.95)" font-size="4.9" text-anchor="middle" textLength="6.01" lengthAdjust="spacingAndGlyphs">60</text>
<line x1="511.4" y1="396.4" x2="511.4" y2="398.1" stroke="#555555" stroke-width="0.6"/>
<text x="511.4" y="403.95" transform="rotate(0.06 511.4 403.95)" font-size="4.9" text-anchor="middle" textLength="6.01" lengthAdjust="spacingAndGlyphs">70</text>
<line x1="539.7" y1="396.4" x2="539.7" y2="398.1" stroke="#555555" stroke-width="0.6"/>
<text x="539.7" y="403.95" transform="rotate(0.06 539.7 403.95)" font-size="4.9" text-anchor="middle" textLength="6.01" lengthAdjust="spacingAndGlyphs">80</text>
<line x1="303.6" y1="388" x2="305.3" y2="388" stroke="#555555" stroke-width="0.6"/>
<text x="301.7" y="390.25" transform="rotate(0.06 301.7 390.25)" font-size="4.9" text-anchor="end" textLength="10.51" lengthAdjust="spacingAndGlyphs">0.00</text>
<line x1="303.6" y1="356.2" x2="305.3" y2="356.2" stroke="#555555" stroke-width="0.6"/>
<text x="301.7" y="358.45" transform="rotate(0.06 301.7 358.45)" font-size="4.9" text-anchor="end" textLength="10.51" lengthAdjust="spacingAndGlyphs">0.05</text>
<line x1="303.6" y1="324.4" x2="305.3" y2="324.4" stroke="#555555" stroke-width="0.6"/>
<text x="301.7" y="326.65" transform="rotate(0.06 301.7 326.65)" font-size="4.9" text-anchor="end" textLength="10.51" lengthAdjust="spacingAndGlyphs">0.10</text>
<line x1="303.6" y1="292.6" x2="305.3" y2="292.6" stroke="#555555" stroke-width="0.6"/>
<text x="301.7" y="294.85" transform="rotate(0.06 301.7 294.85)" font-size="4.9" text-anchor="end" textLength="10.51" lengthAdjust="spacingAndGlyphs">0.15</text>
<line x1="303.6" y1="260.8" x2="305.3" y2="260.8" stroke="#555555" stroke-width="0.6"/>
<text x="301.7" y="263.05" transform="rotate(0.06 301.7 263.05)" font-size="4.9" text-anchor="end" textLength="10.51" lengthAdjust="spacingAndGlyphs">0.20</text>
<line x1="303.6" y1="229" x2="305.3" y2="229" stroke="#555555" stroke-width="0.6"/>
<text x="301.7" y="231.25" transform="rotate(0.06 301.7 231.25)" font-size="4.9" text-anchor="end" textLength="10.51" lengthAdjust="spacingAndGlyphs">0.25</text>
<text x="425.3" y="411" transform="rotate(0.06 425.3 411)" font-size="6.0" text-anchor="middle" textLength="37.7" lengthAdjust="spacingAndGlyphs">Observations</text>
<g transform="translate(287.9 309.4) rotate(-89.94)">
<text x="-45.26" y="0" font-size="6.0" textLength="12.96" lengthAdjust="spacingAndGlyphs">Root</text>
<text x="-30.48" y="0" font-size="6.0" textLength="15.58" lengthAdjust="spacingAndGlyphs">Mean</text>
<text x="-13.08" y="0" font-size="6.0" textLength="20.14" lengthAdjust="spacingAndGlyphs">Square</text>
<text x="8.88" y="0" font-size="6.0" textLength="13.94" lengthAdjust="spacingAndGlyphs">Error</text>
<text x="24.64" y="0" font-size="6.0" textLength="20.62" lengthAdjust="spacingAndGlyphs">(RMSE)</text>
</g>
<rect x="512.4" y="225.2" width="31" height="44.9" rx="0.8" fill="#ffffff" fill-opacity="0.8" stroke="#cccccc" stroke-opacity="0.8" stroke-width="0.5"/>
<line x1="513.7" y1="228.65" x2="524" y2="228.65" stroke="#1f77b4" stroke-width="0.88"/>
<text x="527.4" y="230.75" transform="rotate(0.06 527.4 230.75)" font-size="4.9" textLength="5.85" lengthAdjust="spacingAndGlyphs">All</text>
<line x1="513.7" y1="236.07" x2="524" y2="236.07" stroke="#ff7f0e" stroke-width="0.88"/>
<text x="527.4" y="238.17" transform="rotate(0.06 527.4 238.17)" font-size="4.9" textLength="12.31" lengthAdjust="spacingAndGlyphs">None</text>
<line x1="513.7" y1="243.49" x2="524" y2="243.49" stroke="#2ca02c" stroke-width="0.88"/>
<text x="527.4" y="245.59" transform="rotate(0.06 527.4 245.59)" font-size="4.9" textLength="9.76" lengthAdjust="spacingAndGlyphs">Max</text>
<line x1="513.7" y1="250.91" x2="524" y2="250.91" stroke="#d62728" stroke-width="0.88"/>
<text x="527.4" y="253.01" transform="rotate(0.06 527.4 253.01)" font-size="4.9" textLength="8.38" lengthAdjust="spacingAndGlyphs">Min</text>
<line x1="513.7" y1="258.33" x2="524" y2="258.33" stroke="#9467bd" stroke-width="0.88"/>
<text x="527.4" y="260.43" transform="rotate(0.06 527.4 260.43)" font-size="4.9" textLength="12.86" lengthAdjust="spacingAndGlyphs">Mean</text>
<line x1="513.7" y1="265.75" x2="524" y2="265.75" stroke="#8c564b" stroke-width="0.88"/>
<text x="527.4" y="267.85" transform="rotate(0.06 527.4 267.85)" font-size="4.9" textLength="10.59" lengthAdjust="spacingAndGlyphs">Sum</text>
<text class="cap" x="351.2" y="435.3" font-size="13">(</text>
<text class="cap" x="359.45" y="435.3" font-size="13" font-weight="bold" text-anchor="middle">d</text>
<text class="cap" x="367.7" y="435.3" font-size="13" text-anchor="end">)</text>
<text class="cap" x="370.8" y="435.3" font-size="13" textLength="104.7" lengthAdjust="spacingAndGlyphs">Golden, Colorado</text>
</g>
</svg></body></html>
